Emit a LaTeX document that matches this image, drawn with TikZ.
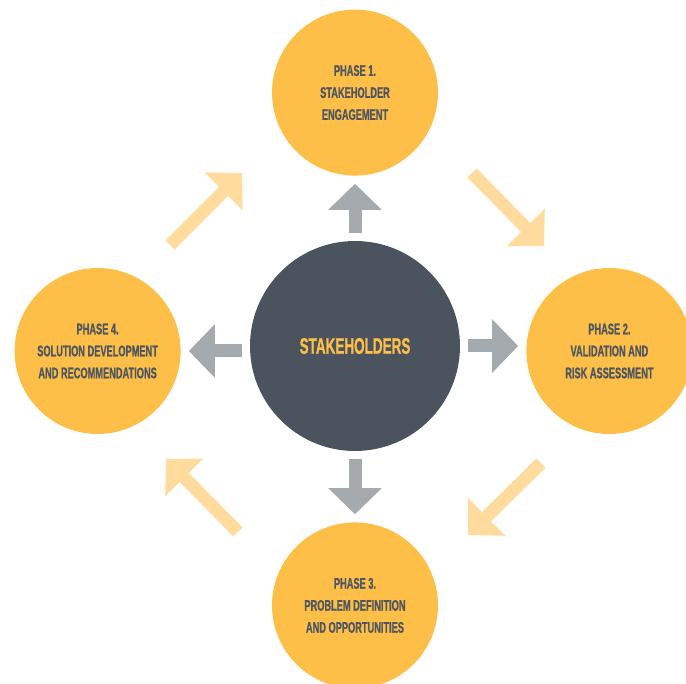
\documentclass[tikz,border=0pt]{standalone}
\usepackage{fontspec}
\newfontfamily\bebas[FakeStretch=0.6, FakeBold=0.8]{Liberation Sans}
\usetikzlibrary{positioning, arrows.meta}
\definecolor{hubgray}{HTML}{4B545E}
\definecolor{phaseorange}{HTML}{FDBF47}
\definecolor{arrowgray}{HTML}{A5AAAE}
\definecolor{arrowlight}{HTML}{FFDB9E}
\definecolor{labelgray}{HTML}{4E5660}
\tikzset{
    hub/.style={circle, fill=hubgray, minimum size=210pt, inner sep=0pt,
        text=phaseorange, font=\bebas\bfseries\fontsize{22.5}{27}\selectfont},
    phase/.style={circle, fill=phaseorange, minimum size=166pt, inner sep=0pt,
        align=center, text=labelgray, font=\bebas\bfseries\fontsize{15.4}{22}\selectfont},
    push/.style={draw=arrowgray, line width=13pt,
        -{Triangle[length=26pt, width=52pt]}, shorten <=8pt, shorten >=8pt},
    flow/.style={draw=arrowlight, line width=13pt,
        -{Triangle[length=26pt, width=52pt]}},
}

\begin{document}
\begin{tikzpicture}[x=1pt, y=-1pt]
    \useasboundingbox (0,0) rectangle (686,684);

    \node[hub] (hub) at (355,346) {STAKEHOLDERS};
    \node[phase, above=65pt of hub] (engage) {PHASE 1.\\STAKEHOLDER\\ENGAGEMENT};
    \node[phase, right=66pt of hub, yshift=-5pt] (validate) {PHASE 2.\\VALIDATION AND\\RISK ASSESSMENT};
    \node[phase, below=71pt of hub] (define) {PHASE 3.\\PROBLEM DEFINITION\\AND OPPORTUNITIES};
    \node[phase, left=69pt of hub, yshift=-5pt] (solve) {PHASE 4.\\SOLUTION DEVELOPMENT\\AND RECOMMENDATIONS};

    % hub to phases
    \draw[push] (hub) -- (engage);
    \draw[push] (hub.east) -- (hub.east -| validate.west);
    \draw[push] (hub) -- (define);
    \draw[push] (hub.west |- solve) -- (solve.east);

    % cycle between phases
    \coordinate (f1s) at (472,173);
    \coordinate (f1e) at (544,246);
    \coordinate (f2s) at (541,463);
    \coordinate (f2e) at (468,535);
    \coordinate (f3s) at (238,532);
    \coordinate (f3e) at (166,459);
    \coordinate (f4s) at (170,245);
    \coordinate (f4e) at (242,173);
    \draw[flow] (f1s) -- (f1e);
    \draw[flow] (f2s) -- (f2e);
    \draw[flow] (f3s) -- (f3e);
    \draw[flow] (f4s) -- (f4e);
\end{tikzpicture}
\end{document}
